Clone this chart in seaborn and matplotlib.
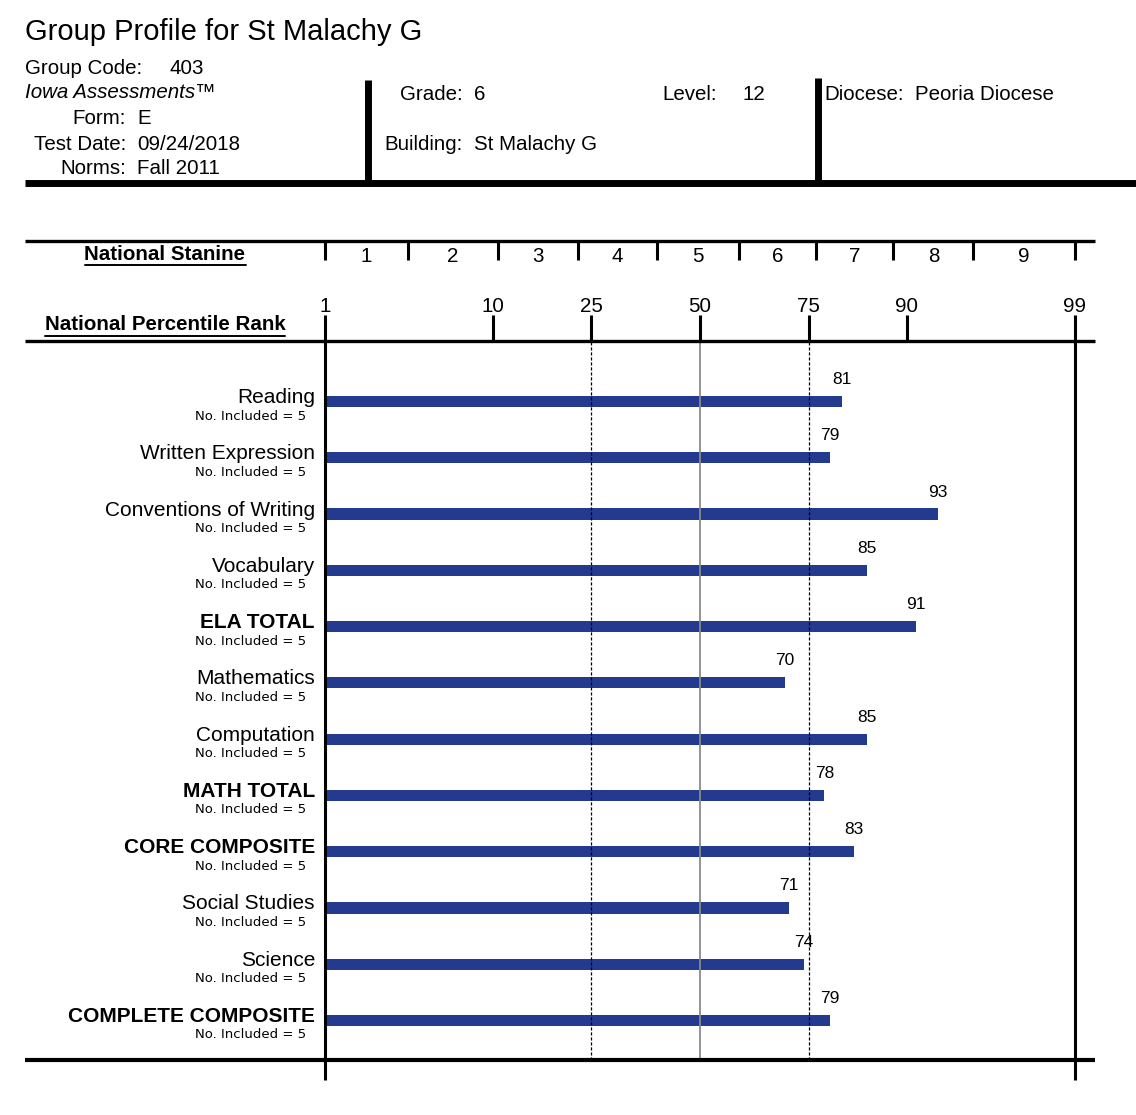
import numpy as np
import pandas as pd
import matplotlib
matplotlib.use("Agg")
import matplotlib.pyplot as plt
import seaborn as sns
from matplotlib.transforms import blended_transform_factory
from matplotlib.lines import Line2D
from statistics import NormalDist

# ---------------- data ----------------
subjects = ["Reading", "Written Expression", "Conventions of Writing", "Vocabulary",
            "ELA TOTAL", "Mathematics", "Computation", "MATH TOTAL",
            "CORE COMPOSITE", "Social Studies", "Science", "COMPLETE COMPOSITE"]
percentile_ranks = [81, 79, 93, 85, 91, 70, 85, 78, 83, 71, 74, 79]
n_included = [5, 5, 5, 5, 5, 5, 5, 5, 5, 5, 5, 5]
bold_rows = ["ELA TOTAL", "MATH TOTAL", "CORE COMPOSITE", "COMPLETE COMPOSITE"]
percentile_ticks = [1, 10, 25, 50, 75, 90, 99]
stanine_bounds = [1, 3.5, 10.5, 22.5, 39.5, 59.5, 76.5, 88.5, 95.5, 99]
stanine_labels = ["1", "2", "3", "4", "5", "6", "7", "8", "9"]

title = "Group Profile for St Malachy G"
left_fields = [("Form:", "E"), ("Test Date:", "09/24/2018"), ("Norms:", "Fall 2011")]

sns.set_theme(style="white")
plt.rcParams["font.family"] = ["Liberation Sans", "DejaVu Sans"]
plt.rcParams["text.color"] = "black"

W, H = 1136, 1115
BAR = "#233A8F"
DY = 2  # small vertical nudge for text
fig = plt.figure(figsize=(W / 100, H / 100), dpi=100)
fig.patch.set_facecolor("white")


def fx(px):
    return px / W


def fy(py):
    return 1 - py / H


def ftext(x, y, s, **kw):
    kw.setdefault("va", "center")
    kw.setdefault("fontsize", 14.8)
    kw.setdefault("color", "black")
    return fig.text(fx(x), fy(y + DY), s, **kw)


def fline(x0, x1, y0, y1, lw, color="black"):
    fig.add_artist(Line2D([fx(x0), fx(x1)], [fy(y0), fy(y1)], lw=lw, color=color,
                          solid_capstyle="butt", transform=fig.transFigure))


# ---------------- header ----------------
ftext(25, 30, title, fontsize=21)
ftext(25, 67, "Group Code:")
ftext(170, 67, "403")
ftext(25, 91, "Iowa Assessments\u2122", style="italic")
for (lab, val), yy in zip(left_fields, [116, 142, 167]):
    ftext(126, yy, lab, ha="right")
    ftext(137, yy, val)
ftext(463, 92, "Grade:", ha="right")
ftext(474, 92, "6")
ftext(463, 142, "Building:", ha="right")
ftext(474, 142, "St Malachy G")
ftext(662, 92, "Level:")
ftext(742, 92, "12")
ftext(824, 92, "Diocese:")
ftext(915, 92, "Peoria Diocese")
fline(25, 1136, 183, 183, 5)
fline(368, 368, 80, 183, 5)
fline(818, 818, 78, 183, 5)

# ---------------- main axes ----------------
ax = fig.add_axes([fx(325), fy(1060), fx(1075) - fx(325), (1060 - 341) / H])
df = pd.DataFrame({"subject": subjects, "pr": percentile_ranks, "n": n_included})
sns.barplot(data=df, x="pr", y="subject", orient="h", color=BAR, saturation=1,
            width=0.2, linewidth=0, ax=ax, zorder=3)

_nd = NormalDist()
_fwd1 = np.vectorize(lambda v: _nd.inv_cdf(v / 100.0), otypes=[float])
_inv1 = np.vectorize(lambda z: _nd.cdf(z) * 100.0, otypes=[float])


def fwd(p):
    p = np.clip(np.asarray(p, dtype=float), 1e-4, 100 - 1e-4)
    return _fwd1(p)


def inv(z):
    z = np.clip(np.asarray(z, dtype=float), -9, 9)
    return _inv1(z)


ax.set_xscale("function", functions=(fwd, inv))
ax.set_xlim(1, 99)
step = (1020.5 - 401.5) / 11
ax.set_ylim(11 + (1060 - 1020.5) / step, -(401.5 - 341) / step)
ax.axis("off")

# reference lines
ax.axvline(25, color="black", lw=0.9, ls=(0, (2.5, 1.5)), zorder=5)
ax.axvline(75, color="black", lw=0.9, ls=(0, (2.5, 1.5)), zorder=5)
ax.axvline(50, color="#8a8a8a", lw=1.3, zorder=5)

# value labels and row labels
rowtr = blended_transform_factory(fig.transFigure, ax.transData)
for i, (s, v, n) in enumerate(zip(subjects, percentile_ranks, n_included)):
    ax.text(v, i - (24 - DY) / step, str(v), ha="center", va="center", fontsize=12.5,
            color="black", zorder=6)
    fig.text(fx(315), i - (6 - DY) / step, s, transform=rowtr, ha="right", va="center",
             fontsize=15, color="black",
             fontweight="bold" if s in bold_rows else "normal")
    fig.text(fx(306), i + (13.5 + 1) / step, f"No. Included = {n}", transform=rowtr,
             ha="right", va="center", fontsize=9.5, family="DejaVu Sans", color="black")

# scale decorations (data x, figure y)
xtr = blended_transform_factory(ax.transData, fig.transFigure)


def dline(p, y0, y1, lw, color="black"):
    fig.add_artist(Line2D([p, p], [fy(y0), fy(y1)], lw=lw, color=color,
                          solid_capstyle="butt", transform=xtr))


# horizontal rules
fline(25, 1095, 241, 241, 2.4)
fline(25, 1095, 341, 341, 2.4)
fline(25, 1095, 1060, 1060, 3)

# stanine ticks + labels
for b in stanine_bounds:
    dline(b, 241, 260, 2.2)
zb = fwd(stanine_bounds)
for k, lab in enumerate(stanine_labels):
    mid = float(inv((zb[k] + zb[k + 1]) / 2))
    fig.text(mid, fy(254 + DY), lab, transform=xtr, ha="center", va="center",
             fontsize=14.8, color="black")

# percentile ticks + labels
for p in percentile_ticks:
    if p in (1, 99):
        dline(p, 315, 1080, 2.2)
    else:
        dline(p, 315, 341, 2.2)
    fig.text(p, fy(304 + DY), str(p), transform=xtr, ha="center", va="center",
             fontsize=14.8, color="black")

# underlined bold headings
renderer = fig.canvas.get_renderer()
for txt, yy in [("National Stanine", 252), ("National Percentile Rank", 323)]:
    t = ftext(165, yy, txt, ha="center", fontweight="bold", fontsize=14.8)
    bb = t.get_window_extent(renderer)
    fig.add_artist(Line2D([bb.x0 / W, bb.x1 / W], [bb.y0 / H - 1 / H, bb.y0 / H - 1 / H],
                          lw=1.4, color="black", transform=fig.transFigure))

fig.savefig("out.png", dpi=100, facecolor="white")
